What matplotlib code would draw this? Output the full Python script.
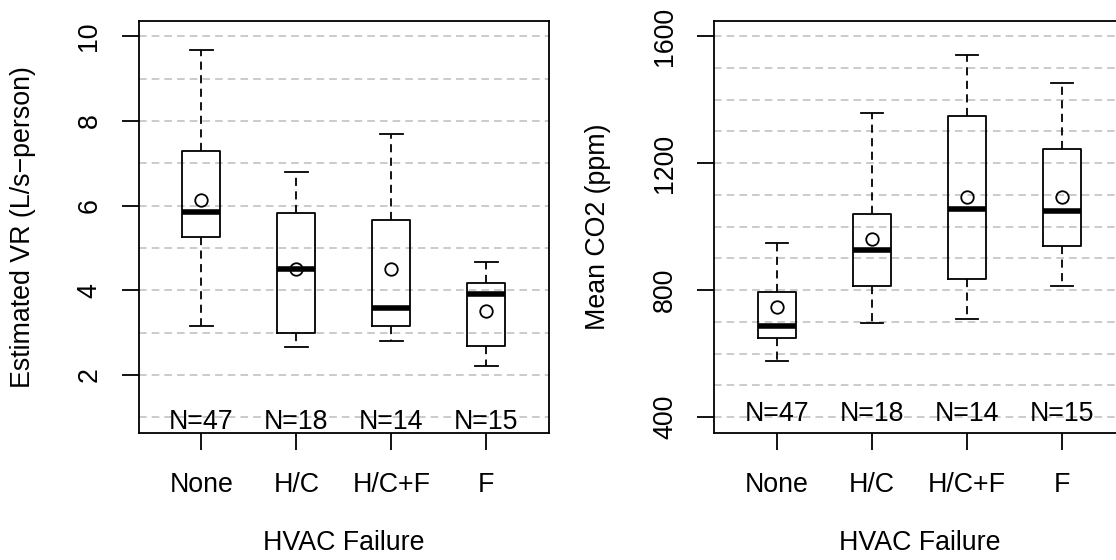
import matplotlib
matplotlib.use("Agg")
import matplotlib.pyplot as plt

plt.rcParams['font.family'] = ['Liberation Sans', 'DejaVu Sans']

groups = ["None", "H/C", "H/C+F", "F"]
counts = [47, 18, 14, 15]

# Estimated ventilation rate (L/s-person)
vr_lo = [3.16, 2.66, 2.80, 2.21]
vr_q1 = [5.25, 3.00, 3.16, 2.68]
vr_med = [5.84, 4.51, 3.59, 3.90]
vr_q3 = [7.28, 5.82, 5.65, 4.18]
vr_hi = [9.68, 6.80, 7.69, 4.67]
vr_mean = [6.13, 4.49, 4.51, 3.52]

# Mean CO2 (ppm)
co2_lo = [576, 696, 710, 812]
co2_q1 = [648, 813, 836, 939]
co2_med = [686, 927, 1055, 1048]
co2_q3 = [795, 1039, 1350, 1246]
co2_hi = [949, 1357, 1540, 1454]
co2_mean = [747, 961, 1094, 1094]

FS = 19.3
LW = 1.3


def panel(ax, lo, q1, med, q3, hi, mean, ylim, yticks, grid, ylabel, n_y):
    for g in grid:
        ax.axhline(g, color="#bdbdbd", lw=1.1, ls=(0, (5, 3.3)), zorder=0)
    stats = []
    for i in range(len(groups)):
        stats.append(dict(whislo=lo[i], q1=q1[i], med=med[i], q3=q3[i],
                          whishi=hi[i], mean=mean[i], fliers=[], label=groups[i]))
    ax.bxp(stats, positions=range(1, 5), widths=0.4, capwidths=0.24,
           showmeans=True, patch_artist=False,
           boxprops=dict(color="black", lw=LW),
           medianprops=dict(color="black", lw=4, solid_capstyle="butt"),
           whiskerprops=dict(color="black", lw=LW, ls=(0, (4.5, 3))),
           capprops=dict(color="black", lw=LW),
           meanprops=dict(marker="o", mfc="none", mec="black", ms=9, mew=1.3))
    for i, n in enumerate(counts):
        ax.text(i + 1, n_y, f"N={n}", ha="center", va="baseline", fontsize=FS)
    ax.set_xlim(0.34, 4.66)
    ax.set_ylim(*ylim)
    ax.set_yticks(yticks)
    ax.set_xticks(range(1, 5))
    ax.set_xticklabels(groups)
    ax.tick_params(axis="x", length=12, width=LW, pad=16, labelsize=FS)
    ax.tick_params(axis="y", length=12, width=LW, pad=14, labelsize=FS)
    for lab in ax.get_yticklabels():
        lab.set_rotation(90)
        lab.set_va("center")
    for s in ax.spines.values():
        s.set_linewidth(LW)
    ax.set_xlabel("HVAC Failure", fontsize=FS)
    ax.xaxis.set_label_coords(0.5, -0.236)
    ax.set_ylabel(ylabel, fontsize=FS)
    ax.yaxis.set_label_coords(-0.251, 0.5)


fig = plt.figure(figsize=(11.16, 5.6), dpi=100)
ax1 = fig.add_axes([0.1242, 0.227, 0.3677, 0.7348])
ax2 = fig.add_axes([0.640, 0.227, 0.3677, 0.7348])

panel(ax1, vr_lo, vr_q1, vr_med, vr_q3, vr_hi, vr_mean,
      (0.63, 10.35), [2, 4, 6, 8, 10], range(1, 11),
      "Estimated VR (L/s\u2212person)", 0.73)
panel(ax2, co2_lo, co2_q1, co2_med, co2_q3, co2_hi, co2_mean,
      (350, 1647), [400, 800, 1200, 1600], range(400, 1700, 100),
      "Mean CO2 (ppm)", 386)

fig.savefig("out.png", dpi=100)
